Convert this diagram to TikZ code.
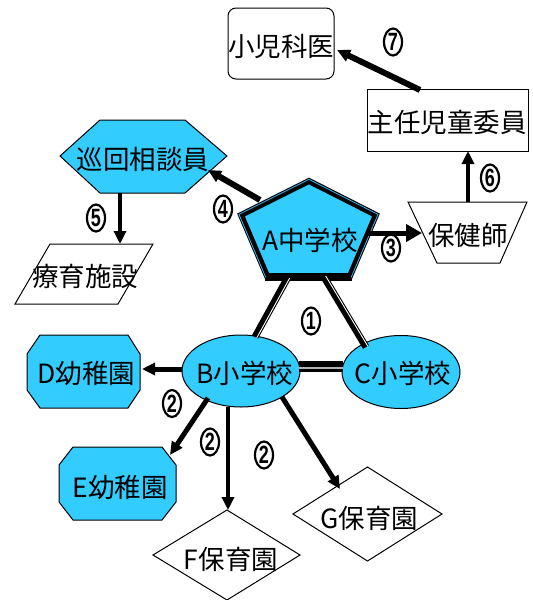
\documentclass[tikz,border=0pt]{standalone}
\usepackage{fontspec}
\setmainfont{Noto Sans CJK JP}
\newfontfamily\digitfont{Liberation Sans}
\usetikzlibrary{arrows.meta,calc,shapes.geometric}
\definecolor{sky}{RGB}{51,204,255}
\definecolor{edgeblue}{RGB}{60,180,235}
\begin{document}
\begin{tikzpicture}[x=1pt,y=-1pt,
  lbl/.style={font=\fontsize{26.5}{26.5}\selectfont, inner sep=0pt},
  shp/.style={draw=black, line width=1pt},
  arr/.style={line width=#1, -{Triangle[length=13pt,width=12pt]}},
  bigarr/.style={line width=#1, -{Triangle[length=16pt,width=17pt]}},
  dblout/.style={line width=7pt},
  dblin/.style={line width=0.9pt, draw=white},
  num/.style={draw, ellipse, line width=2.2pt, minimum width=18pt, minimum height=27pt, inner sep=0pt, font=\digitfont\bfseries\fontsize{25}{25}\selectfont}
]
\useasboundingbox (0,0) rectangle (533,600);

% shapes
\draw[shp, rounded corners=8pt, fill=white] (228,8) rectangle (334,79);
\draw[shp, fill=white] (367,89) rectangle (528,151);
\draw[shp, fill=sky] (60,156) -- (100,120) -- (185,120) -- (227,156) -- (185,193) -- (100,193) -- cycle;
\draw[shp, fill=white] (15,304) -- (50,244) -- (153,244) -- (118,304) -- cycle;
\draw[line width=6pt, line join=miter, fill=sky] (309,181) -- (376,215) -- (350,276) -- (267,276) -- (241,215) -- cycle;
\draw[line width=8pt] (265,277) -- (352,277);
\draw[line width=0.8pt, draw=edgeblue, line join=miter] (265.7,277.3) -- (239,214.4) -- (309,179.4) -- (378,214.4) -- (351.2,277.3);
\draw[shp, fill=white] (408,202) -- (527,202) -- (500,263) -- (437,263) -- cycle;
\draw[shp, fill=sky] (241,371) ellipse [x radius=59, y radius=36];
\draw[shp, fill=sky] (401,372) ellipse [x radius=59, y radius=36.5];
\draw[shp, fill=sky] (40,335) -- (128,335) -- (140,354) -- (140,390) -- (128,408) -- (40,408) -- (27,390) -- (27,354) -- cycle;
\draw[shp, fill=sky] (73,447) -- (162,447) -- (176,465) -- (176,502) -- (162,520) -- (73,520) -- (59,502) -- (59,465) -- cycle;
\draw[shp, fill=white] (153,555) -- (227,510) -- (300,555) -- (227,600) -- cycle;
\draw[shp, fill=white] (293,514) -- (367.5,467) -- (442,514) -- (367.5,561) -- cycle;

% labels
\node[lbl] (kid) at (281,46) {小児科医};
\node[lbl] (shunin) at (447,122) {主任児童委員};
\node[lbl] (junkai) at (143,159) {巡回相談員};
\node[lbl] (ryoiku) at (85,276) {療育施設};
\node[lbl] (A) at (310,240) {A中学校};
\node[lbl] (hoken) at (468,235) {保健師};
\node[lbl] (B) at (245,373) {B小学校};
\node[lbl] (C) at (403,373) {C小学校};
\node[lbl] (D) at (86.5,373) {D幼稚園};
\node[lbl] (E) at (120,487) {E幼稚園};
\node[lbl] (F) at (231,559) {F保育園};
\node[lbl] (G) at (369.5,518) {G保育園};

% connectors
\draw[arr=6pt] ($(shunin)+(-27,-32)$) -- ($(kid)+(56,4)$);
\draw[arr=4pt] ($(hoken)+(0,-33)$) -- ($(shunin)+(21,29)$);
\draw[bigarr=5pt] ($(A)+(58,-7)$) -- ($(hoken)+(-46,-2)$);
\draw[arr=6pt] ($(A)+(-50,-40)$) -- ($(junkai)+(65,11)$);
\draw[arr=4pt] ($(junkai)+(-23,34)$) -- ($(ryoiku)+(35,-32)$);
\draw[dblout] ($(A)+(-22,37)$) -- ($(B)+(10,-36)$);
\draw[dblin] ($(A)+(-22,37)+(1.7,1)$) -- ($(B)+(10,-36)+(1.7,1)$);
\draw[dblout] ($(A)+(14,37)$) -- ($(C)+(-37,-26)$);
\draw[dblin] ($(A)+(14,37)+(1.7,-1)$) -- ($(C)+(-37,-26)+(1.7,-1)$);
\draw[line width=11pt] ($(B)+(54,-7)$) -- ($(C)+(-60,-7)$);
\draw[line width=2pt, draw=gray!60] ($(B)+(54,-5.5)$) -- ($(C)+(-60,-5.5)$);
\draw[arr=5pt] ($(B)+(-63,-4)$) -- ($(D)+(55.5,-4)$);
\draw[arr=5pt] ($(B)+(-37,25)$) -- ($(E)+(50,-32)$);
\draw[arr=4pt] ($(B)+(-17,34)$) -- ($(F)+(-3,-49)$);
\draw[arr=5pt] ($(B)+(37,24)$) -- ($(G)+(-29.5,-29)$);

% step numbers
\node[num] (n7) at (393,42) {\scalebox{0.72}[1]{7}};
\node[num] (n6) at (490,178) {\scalebox{0.72}[1]{6}};
\node[num] (n5) at (96,218) {\scalebox{0.72}[1]{5}};
\node[num] (n4) at (223,209) {\scalebox{0.72}[1]{4}};
\node[num] (n3) at (391,248) {\scalebox{0.72}[1]{3}};
\node[num] (n1) at (311,321) {\scalebox{0.72}[1]{1}};
\node[num] (n2a) at (172,403.5) {\scalebox{0.72}[1]{2}};
\node[num] (n2b) at (210,442) {\scalebox{0.72}[1]{2}};
\node[num] (n2c) at (264,455) {\scalebox{0.72}[1]{2}};
\end{tikzpicture}
\end{document}
